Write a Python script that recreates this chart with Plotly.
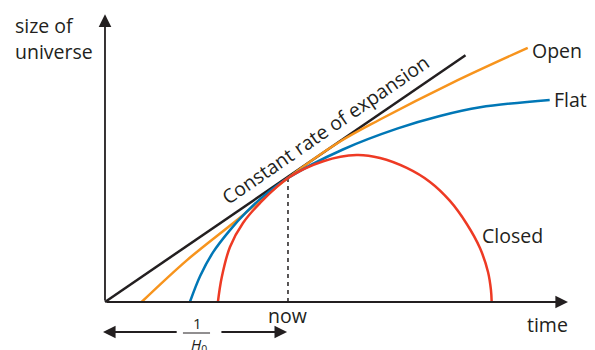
import plotly.graph_objects as go

# time in units of 1/H0 (now = 1), size in units of today's size
const_t = [0.0, 1.97]
const_a = [0.0, 1.99]

open_t = [0.20, 0.45, 0.72, 1.00, 1.28, 1.50, 1.90, 2.31]
open_a = [0.00, 0.34, 0.66, 1.00, 1.29, 1.47, 1.77, 2.05]

flat_t = [0.464, 0.52, 0.59, 0.683, 0.776, 0.863, 1.00, 1.30, 1.60, 1.83, 2.05, 2.43]
flat_a = [0.000, 0.21, 0.40, 0.580, 0.730, 0.850, 1.00, 1.23, 1.40, 1.50, 1.57, 1.63]

closed_t = [0.617, 0.638, 0.683, 0.754, 0.847, 1.00, 1.193, 1.375, 1.503,
            1.649, 1.776, 1.885, 1.977, 2.049, 2.093, 2.109, 2.113]
closed_a = [0.000, 0.200, 0.444, 0.637, 0.798, 1.00, 1.135, 1.185, 1.161,
            1.081, 0.968, 0.815, 0.629, 0.435, 0.242, 0.097, 0.000]

now_t = [1.0, 1.0]
now_a = [0.0, 1.0]

BLACK = "#231f20"
ORANGE = "#f7941d"
BLUE = "#0077b6"
RED = "#ee3a24"
FONT = "Open Sans"

fig = go.Figure()
fig.add_trace(go.Scatter(x=now_t, y=now_a, mode="lines",
                         line=dict(color=BLACK, width=1.5, dash="4px,4px")))
fig.add_trace(go.Scatter(x=const_t, y=const_a, mode="lines",
                         line=dict(color=BLACK, width=2.5)))
fig.add_trace(go.Scatter(x=open_t, y=open_a, mode="lines",
                         line=dict(color=ORANGE, width=2.5, shape="spline")))
fig.add_trace(go.Scatter(x=flat_t, y=flat_a, mode="lines",
                         line=dict(color=BLUE, width=2.5, shape="spline")))
fig.add_trace(go.Scatter(x=closed_t, y=closed_a, mode="lines",
                         line=dict(color=RED, width=2.5, shape="spline")))

def arrow(x, y, ax, ay):
    fig.add_annotation(x=x, y=y, ax=ax, ay=ay, xref="x", yref="y",
                       axref="x", ayref="y", text="", showarrow=True,
                       arrowhead=2, arrowsize=1.4, arrowwidth=1.8,
                       arrowcolor=BLACK)

# axes
arrow(0, 2.32, 0, 0)
arrow(2.53, 0, 0, 0)
# 1/H0 arrows
arrow(-0.011, -0.242, 0.40, -0.242)
arrow(0.995, -0.242, 0.628, -0.242)

def label(x, y, text, size=19.5, xanchor="center", angle=0):
    fig.add_annotation(x=x, y=y, xref="x", yref="y", text=text,
                       showarrow=False, xanchor=xanchor, textangle=angle,
                       font=dict(family=FONT, size=size, color=BLACK))

label(-0.503, 2.23, "size of", xanchor="left")
label(-0.503, 2.02, "universe", xanchor="left")
label(2.322, 2.03, "Open", xanchor="left")
label(2.445, 1.63, "Flat", xanchor="left")
label(2.049, 0.54, "Closed", xanchor="left")
label(2.295, -0.185, "time", xanchor="left")
label(1.0, -0.105, "now")
label(0.503, -0.17, "1", size=15)
label(0.515, -0.345, "<i>H</i><sub>0</sub>", size=15)
label(1.202, 1.395, "Constant rate of expansion", angle=-34.5)

fig.add_shape(type="line", xref="x", yref="y", x0=0.426, x1=0.574,
              y0=-0.25, y1=-0.25, line=dict(color=BLACK, width=1))

# page body has an 8px margin, so the figure starts at pixel (8, 8)
fig.update_layout(
    width=587, height=342, margin=dict(l=0, r=0, t=0, b=0),
    plot_bgcolor="white", paper_bgcolor="white", showlegend=False,
    hovermode=False,
    xaxis=dict(range=[-0.530, 2.6776], visible=False, fixedrange=True),
    yaxis=dict(range=[-0.387, 2.371], visible=False, fixedrange=True),
)
fig.write_html("out.html")
